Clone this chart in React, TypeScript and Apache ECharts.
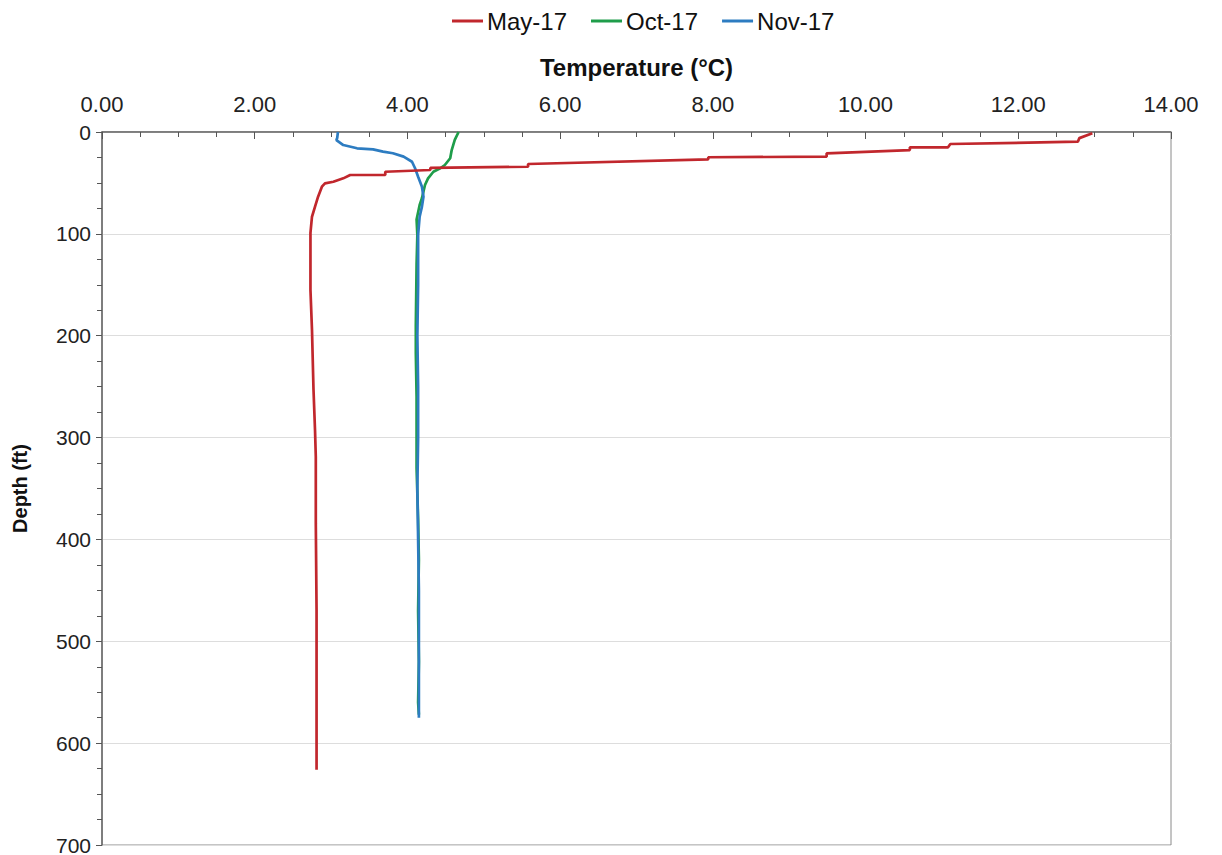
import React, { useEffect, useRef } from "react";
import * as echarts from "echarts";

// May-17 profile
const mayDepth = [1.3, 6, 9.5, 11.8, 15, 15, 17.7, 20.9, 24.2, 24.8, 26.8, 31.4, 34.1, 35.3, 37.3, 39, 42.2, 42.2, 45.5, 48.8, 50.4, 53.7, 63.5, 73.3, 83.2, 99, 155, 194, 253, 293, 319, 384, 469, 560, 626];
const mayTemp = [12.97, 12.8, 12.78, 11.11, 11.08, 10.58, 10.58, 9.49, 9.49, 7.94, 7.94, 5.58, 5.58, 4.3, 4.3, 3.71, 3.71, 3.25, 3.16, 3.03, 2.92, 2.88, 2.83, 2.79, 2.75, 2.73, 2.73, 2.75, 2.77, 2.79, 2.8, 2.8, 2.81, 2.81, 2.81];

// Oct-17 profile
const octDepth = [0, 7.8, 17.7, 25.8, 32.4, 35.6, 39, 45.5, 52, 65, 71.7, 86, 101, 130, 190, 217, 260, 330, 380, 420, 470, 520, 560, 572];
const octTemp = [4.67, 4.62, 4.58, 4.56, 4.49, 4.43, 4.34, 4.27, 4.23, 4.19, 4.16, 4.12, 4.13, 4.12, 4.11, 4.11, 4.12, 4.12, 4.14, 4.15, 4.14, 4.15, 4.14, 4.15];

// Nov-17 profile
const novDepth = [0, 6, 7.9, 12.8, 16, 17, 19.3, 20.9, 24.2, 29.2, 35.6, 43.9, 53.7, 63.5, 73.3, 83.2, 101, 150, 200, 250, 300, 350, 400, 450, 500, 540, 575];
const novTemp = [3.09, 3.08, 3.07, 3.16, 3.34, 3.55, 3.68, 3.81, 3.95, 4.06, 4.1, 4.14, 4.19, 4.21, 4.19, 4.16, 4.14, 4.14, 4.13, 4.14, 4.14, 4.13, 4.14, 4.15, 4.15, 4.15, 4.15];

const seriesNames = ["May-17", "Oct-17", "Nov-17"];
const seriesColors = ["#c1272d", "#1f9d4a", "#2d7cc1"];
const xTicks = { min: 0, max: 14, interval: 2 };
const yTicks = { min: 0, max: 700, interval: 100 };

const pairs = (t: number[], d: number[]) => t.map((v, i) => [v, d[i]]);

export default function App() {
  const ref = useRef<HTMLDivElement>(null);
  useEffect(() => {
    if (!ref.current) return;
    const chart = echarts.init(ref.current, null, { renderer: "svg" });
    const font = "Liberation Sans, Arial, sans-serif";
    const datasets = [pairs(mayTemp, mayDepth), pairs(octTemp, octDepth), pairs(novTemp, novDepth)];
    chart.setOption({
      animation: false,
      backgroundColor: "#ffffff",
      textStyle: { fontFamily: font },
      legend: {
        top: 4,
        left: 447,
        icon: "rect",
        itemWidth: 31,
        itemHeight: 3,
        itemGap: 24,
        textStyle: { fontSize: 24, color: "#111", fontFamily: font, padding: [0, 0, 0, -1] },
        data: seriesNames,
      },
      grid: {
        left: 102,
        top: 132,
        right: 51,
        bottom: 10,
        show: true,
        borderColor: "#8a8a8a",
        borderWidth: 1,
        outerBoundsMode: "none",
        containLabel: false,
      },
      xAxis: {
        type: "value",
        position: "top",
        min: xTicks.min,
        max: xTicks.max,
        interval: xTicks.interval,
        name: "Temperature (°C)",
        nameLocation: "middle",
        nameGap: 53,
        nameTextStyle: { fontSize: 24, fontWeight: "bold", color: "#111", fontFamily: font },
        axisLine: { show: true, lineStyle: { color: "#666", width: 1.5 } },
        axisTick: { show: true, inside: true, length: 7, lineStyle: { color: "#555" } },
        minorTick: { show: true, splitNumber: 4, length: 5, lineStyle: { color: "#555" } },
        axisLabel: { fontSize: 22, color: "#222", margin: 17, formatter: (v: number) => v.toFixed(2) },
        splitLine: { show: false },
      },
      yAxis: {
        type: "value",
        inverse: true,
        min: yTicks.min,
        max: yTicks.max,
        interval: yTicks.interval,
        name: "Depth (ft)",
        nameLocation: "middle",
        nameGap: 72,
        nameTextStyle: { fontSize: 20, fontWeight: "bold", color: "#111", fontFamily: font },
        axisLine: { show: true, lineStyle: { color: "#666", width: 1.5 } },
        axisTick: { show: true, inside: false, length: 6, lineStyle: { color: "#555" } },
        minorTick: { show: true, splitNumber: 4, length: 5, lineStyle: { color: "#555" } },
        axisLabel: { fontSize: 21, color: "#222", margin: 11, padding: [0, 0, 6, 0] },
        splitLine: { show: true, lineStyle: { color: "#dddddd", width: 1 } },
      },
      series: seriesNames.map((name, i) => ({
        name,
        type: "line",
        data: datasets[i],
        showSymbol: false,
        symbol: "none",
        lineStyle: { color: seriesColors[i], width: 2.7 },
        itemStyle: { color: seriesColors[i] },
        z: i === 1 ? 2 : i === 2 ? 3 : 4,
      })),
    });
    return () => chart.dispose();
  }, []);
  return (
    <div
      ref={ref}
      style={{ position: "fixed", left: 0, top: 0, width: 1222, height: 855, background: "#fff" }}
    />
  );
}
